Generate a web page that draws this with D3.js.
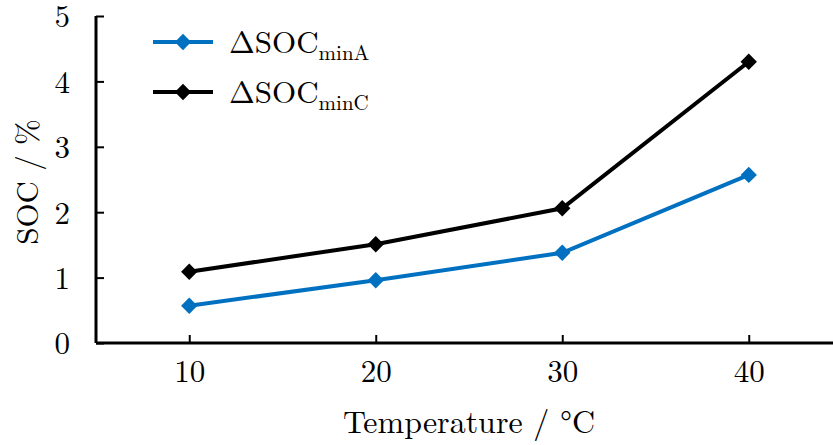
<!DOCTYPE html>
<html>
<head>
    <meta charset="UTF-8">
    <title>SOC vs Temperature</title>
    <script src="https://d3js.org/d3.v7.min.js"></script>
    <style>
        body { margin: 0; background: #fff; }
    </style>
</head>
<body>
    <div id="chart"></div>
    <script>
        const temperatures = [10, 20, 30, 40];
        const socMinA = [0.57, 0.96, 1.38, 2.57];
        const socMinC = [1.09, 1.51, 2.06, 4.30];
        const yTicks = [0, 1, 2, 3, 4, 5];

        const FONT = "'Latin Modern Roman', 'Liberation Serif', serif";
        const width = 833;
        const height = 445;
        const svg = d3.select('#chart')
            .append('svg')
            .attr('width', width)
            .attr('height', height);

        const xScale = d3.scaleLinear()
            .domain([5, 45])
            .range([96, 842]);

        const yScale = d3.scaleLinear()
            .domain([0, 5])
            .range([343, 16]);

        // axes, ticks pointing inward
        const xAxis = d3.axisBottom(xScale).tickValues(temperatures).tickFormat(d3.format('d')).tickSize(-8).tickPadding(17);
        const yAxis = d3.axisLeft(yScale).tickValues(yTicks).tickFormat(d3.format('d')).tickSize(-8).tickPadding(26);

        const gx = svg.append('g')
            .attr('transform', 'translate(0, 343)')
            .call(xAxis);
        gx.select('.domain').attr('d', 'M96,0H833');

        const gy = svg.append('g')
            .attr('transform', 'translate(96, 0)')
            .call(yAxis);
        gy.select('.domain').attr('d', 'M0,16V343');

        svg.selectAll('.domain').attr('stroke', '#000').attr('stroke-width', 3);
        svg.selectAll('.tick line').attr('stroke', '#000').attr('stroke-width', 2);
        svg.selectAll('.tick text').style('font-size', '31px').style('font-family', FONT).attr('fill', '#000');
        gx.selectAll('.tick text').attr('dy', '0.71em');
        gy.selectAll('.tick text').attr('dy', '0.35em');

        const series = [
            { name: 'minA', values: socMinA, color: '#0070C0' },
            { name: 'minC', values: socMinC, color: '#000000' }
        ];

        const line = d3.line()
            .x((d, i) => xScale(temperatures[i]))
            .y(d => yScale(d));

        const diamond = d3.symbol().type(d3.symbolDiamond2).size(170);

        series.forEach(s => {
            svg.append('path')
                .datum(s.values)
                .attr('fill', 'none')
                .attr('stroke', s.color)
                .attr('stroke-width', 4)
                .attr('d', line);
            svg.selectAll(null)
                .data(s.values)
                .enter()
                .append('path')
                .attr('d', diamond)
                .attr('fill', s.color)
                .attr('transform', (d, i) => 'translate(' + xScale(temperatures[i]) + ',' + yScale(d) + ')');
        });

        // legend
        series.forEach((s, i) => {
            const ly = 42 + i * 50;
            svg.append('line')
                .attr('x1', 153).attr('x2', 213)
                .attr('y1', ly).attr('y2', ly)
                .attr('stroke', s.color)
                .attr('stroke-width', 4);
            svg.append('path')
                .attr('d', diamond)
                .attr('fill', s.color)
                .attr('transform', 'translate(183,' + ly + ')');
            const t = svg.append('text')
                .attr('x', 229)
                .attr('y', ly + 11)
                .style('font-family', FONT)
                .style('font-size', '31px');
            t.append('tspan').text('ΔSOC');
            t.append('tspan').text(s.name).style('font-size', '21px').attr('dy', 7);
        });

        // axis titles
        svg.append('text')
            .attr('x', 469)
            .attr('y', 433)
            .attr('text-anchor', 'middle')
            .style('font-family', FONT)
            .style('font-size', '32px')
            .text('Temperature / °C');

        svg.append('text')
            .attr('transform', 'translate(38, 182) rotate(-90)')
            .attr('text-anchor', 'middle')
            .style('font-family', FONT)
            .style('font-size', '31px')
            .text('SOC / %');
    </script>
</body>
</html>
